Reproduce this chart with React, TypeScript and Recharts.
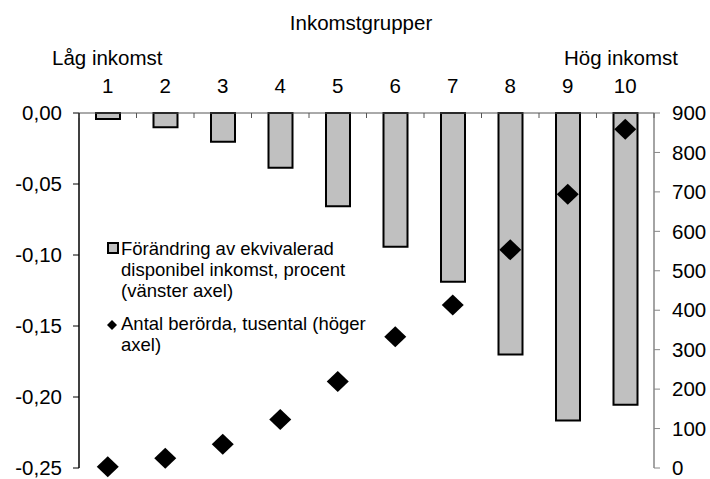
import React from 'react';
import { ComposedChart, Bar, Line, XAxis, YAxis } from 'recharts';

// income deciles, 1 = lowest
const groups = ['1', '2', '3', '4', '5', '6', '7', '8', '9', '10'];
// change in equivalised disposable income, percent (left axis)
const incomeChange = [-0.0042, -0.0101, -0.0203, -0.0385, -0.0656, -0.0942, -0.1188, -0.17, -0.2166, -0.2054];
// number affected, thousands (right axis)
const affected = [3, 25, 60, 123, 219, 333, 413, 553, 694, 859];

const leftTicks = [-0.25, -0.2, -0.15, -0.1, -0.05, 0];
const rightTicks = [0, 100, 200, 300, 400, 500, 600, 700, 800, 900];

const data = groups.map((g, i) => ({ g, change: incomeChange[i], affected: affected[i] }));

const W = 710;
const H = 479;
const LEFT_W = 79;
const RIGHT_W = 56;
const BAND = (W - LEFT_W - RIGHT_W) / groups.length;

const FONT = '"Liberation Sans", Arial, sans-serif';
const AXIS_FS = 20.5;

const fmtLeft = (v: number) => (Math.abs(v) < 1e-9 ? '0,00' : v.toFixed(2).replace('.', ','));

// category label above the axis, plus boundary ticks between the groups
const TopTick = (props: any) => {
  const { x, y, payload, index } = props;
  const last = index === groups.length - 1;
  return (
    <g>
      <text x={x} y={y - 20} textAnchor="middle" fontSize={AXIS_FS} fill="#000">
        {payload.value}
      </text>
      <line x1={x - BAND / 2} x2={x - BAND / 2} y1={y} y2={y + 5} stroke="#555" />
      {last && <line x1={x + BAND / 2} x2={x + BAND / 2} y1={y} y2={y + 5} stroke="#555" />}
    </g>
  );
};

const Diamond = (props: any) => {
  const { cx, cy, index } = props;
  if (cx == null || cy == null) return null;
  return (
    <polygon
      key={`d-${index}`}
      points={`${cx},${cy - 10.5} ${cx + 11},${cy} ${cx},${cy + 10.5} ${cx - 11},${cy}`}
      fill="#000"
    />
  );
};

const legendText: React.CSSProperties = {
  position: 'absolute',
  left: 121,
  fontSize: 18.5,
  lineHeight: '21px',
  whiteSpace: 'nowrap',
  color: '#000',
};

export default function App() {
  return (
    <div style={{ position: 'absolute', left: 0, top: 0, width: W, height: H, background: '#fff', fontFamily: FONT }}>
      <ComposedChart width={W} height={H} data={data} margin={{ top: 0, right: 0, left: 0, bottom: 11 }}>
        <XAxis
          dataKey="g"
          xAxisId="t"
          orientation="top"
          height={113}
          axisLine={{ stroke: '#555', strokeWidth: 1 }}
          tickLine={false}
          tickSize={0}
          tickMargin={0}
          interval={0}
          tick={<TopTick />}
        />
        <XAxis dataKey="g" xAxisId="b" orientation="bottom" height={0} tick={false} tickLine={false} axisLine={{ stroke: '#868686', strokeWidth: 1.5 }} />
        <YAxis
          yAxisId="l"
          width={LEFT_W}
          domain={[-0.25, 0]}
          ticks={leftTicks}
          interval={0}
          tickFormatter={fmtLeft}
          axisLine={{ stroke: '#000', strokeWidth: 1.5 }}
          tickLine={{ stroke: '#000' }}
          tickSize={6}
          tickMargin={11}
          tick={{ fontSize: AXIS_FS, fill: '#000' }}
        />
        <YAxis
          yAxisId="r"
          orientation="right"
          width={RIGHT_W}
          domain={[0, 900]}
          ticks={rightTicks}
          interval={0}
          axisLine={{ stroke: '#868686', strokeWidth: 1.5 }}
          tickLine={{ stroke: '#868686' }}
          tickSize={6}
          tickMargin={12}
          tick={{ fontSize: AXIS_FS, fill: '#000', textAnchor: 'start' }}
        />
        <Bar
          dataKey="change"
          xAxisId="t"
          yAxisId="l"
          barSize={24}
          fill="#c0c0c0"
          stroke="#000"
          strokeWidth={2}
          isAnimationActive={false}
        />
        <Line
          dataKey="affected"
          xAxisId="t"
          yAxisId="r"
          stroke="none"
          dot={Diamond}
          activeDot={false}
          isAnimationActive={false}
        />
      </ComposedChart>

      <div style={{ position: 'absolute', left: 0, width: 722, top: 12.6, textAlign: 'center', fontSize: AXIS_FS, lineHeight: 1 }}>
        Inkomstgrupper
      </div>
      <div style={{ position: 'absolute', left: 52, top: 47.6, fontSize: AXIS_FS, lineHeight: 1, whiteSpace: 'nowrap' }}>
        Låg inkomst
      </div>
      <div style={{ position: 'absolute', right: W - 678, top: 47.6, fontSize: AXIS_FS, lineHeight: 1, whiteSpace: 'nowrap' }}>
        Hög inkomst
      </div>

      <div style={{ position: 'absolute', left: 107, top: 242, width: 8, height: 8, background: '#c0c0c0', border: '2px solid #000' }} />
      <div style={{ ...legendText, top: 238 }}>
        Förändring av ekvivalerad
        <br />
        disponibel inkomst, procent
        <br />
        (vänster axel)
      </div>
      <svg style={{ position: 'absolute', left: 106, top: 319 }} width={12} height={12}>
        <polygon points="6,1 11,6 6,11 1,6" fill="#000" />
      </svg>
      <div style={{ ...legendText, top: 313 }}>
        Antal berörda, tusental (höger
        <br />
        axel)
      </div>
    </div>
  );
}
